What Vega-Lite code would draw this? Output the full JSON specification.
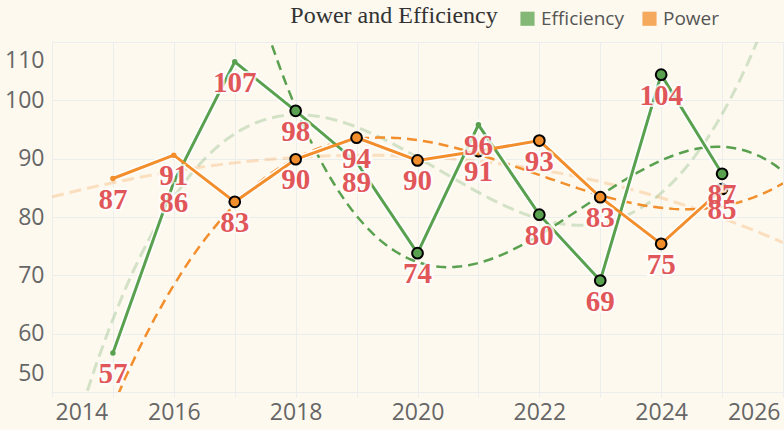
{
  "$schema": "https://vega.github.io/schema/vega-lite/v6.json",
  "width": 784,
  "height": 430,
  "autosize": {"type": "fit", "contains": "padding"},
  "padding": {"left": 4, "right": 0, "top": 4, "bottom": 6},
  "background": "#fdf9ef",
  "title": {"text": "Power and Efficiency", "font": "Liberation Serif", "fontSize": 24, "fontWeight": "normal", "color": "#333333", "anchor": "middle", "frame": "bounds", "offset": 14},
  "config": {"view": {"stroke": null}},
  "data": {"values": [
    {"year": 2015, "series": "Efficiency", "value": 56.7},
    {"year": 2016, "series": "Efficiency", "value": 86.0},
    {"year": 2017, "series": "Efficiency", "value": 106.6},
    {"year": 2018, "series": "Efficiency", "value": 98.2},
    {"year": 2019, "series": "Efficiency", "value": 89.4},
    {"year": 2020, "series": "Efficiency", "value": 73.8},
    {"year": 2021, "series": "Efficiency", "value": 95.8},
    {"year": 2022, "series": "Efficiency", "value": 80.4},
    {"year": 2023, "series": "Efficiency", "value": 69.1},
    {"year": 2024, "series": "Efficiency", "value": 104.4},
    {"year": 2025, "series": "Efficiency", "value": 87.4},
    {"year": 2015, "series": "Power", "value": 86.6},
    {"year": 2016, "series": "Power", "value": 90.6},
    {"year": 2017, "series": "Power", "value": 82.6},
    {"year": 2018, "series": "Power", "value": 89.9},
    {"year": 2019, "series": "Power", "value": 93.6},
    {"year": 2020, "series": "Power", "value": 89.7},
    {"year": 2021, "series": "Power", "value": 91.3},
    {"year": 2022, "series": "Power", "value": 93.1},
    {"year": 2023, "series": "Power", "value": 83.4},
    {"year": 2024, "series": "Power", "value": 75.4},
    {"year": 2025, "series": "Power", "value": 84.8}
  ]},
  "encoding": {
    "x": {"field": "year", "type": "quantitative", "title": null,
      "scale": {"domain": [2014, 2026], "nice": false, "zero": false},
      "axis": {"values": [2014, 2015, 2016, 2017, 2018, 2019, 2020, 2021, 2022, 2023, 2024, 2025, 2026],
        "labelExpr": "datum.value % 2 == 0 ? format(datum.value, 'd') : ''",
        "labelFlush": true, "labelFlushOffset": -3, "labelOverlap": false,
        "grid": true, "gridColor": "#eceeee", "ticks": true, "tickColor": "#eceeee", "tickSize": 5,
        "domain": false, "labelFont": "Open Sans", "labelFontSize": 23, "labelColor": "#666666", "labelPadding": 4}},
    "y": {"field": "value", "type": "quantitative", "title": null,
      "scale": {"domain": [50, 110], "nice": false, "zero": false},
      "axis": {"values": [50, 60, 70, 80, 90, 100, 110], "labelFlush": true, "labelFlushOffset": -7,
        "grid": true, "gridColor": "#eceeee", "ticks": false, "domain": false,
        "labelFont": "Open Sans", "labelFontSize": 23, "labelColor": "#666666", "labelPadding": 8}},
    "color": {"field": "series", "type": "nominal",
      "scale": {"domain": ["Efficiency", "Power"], "range": ["#59a14f", "#f28e2b"]},
      "legend": {"orient": "none", "legendX": 466, "legendY": -33, "direction": "horizontal", "title": null,
        "symbolType": "square", "symbolSize": 200, "symbolStrokeWidth": 0,
        "labelFont": "Open Sans", "labelFontSize": 19, "labelColor": "#555555", "columnPadding": 16,
        "encode": {"symbols": {"update": {"fill": {"scale": "color", "field": "value"}, "opacity": {"value": 0.75}, "strokeWidth": {"value": 0}}}}}}
  },
  "layer": [
    {
      "transform": [{"regression": "value", "on": "year", "groupby": ["series"], "method": "poly", "order": 3, "extent": [2014, 2026]}],
      "mark": {"type": "line", "strokeDash": [12, 6], "strokeWidth": 3, "opacity": 0.25, "clip": true}
    },
    {
      "transform": [
        {"filter": "datum.series == 'Power' ? datum.year >= 2017 : indexof([2018, 2020, 2022, 2023, 2024, 2025], datum.year) >= 0"},
        {"regression": "value", "on": "year", "groupby": ["series"], "method": "poly", "order": 3, "extent": [2014, 2026]}
      ],
      "mark": {"type": "line", "strokeDash": [10, 6], "strokeWidth": 2.5, "clip": true}
    },
    {
      "mark": {"type": "line", "strokeWidth": 6, "color": "white"},
      "encoding": {"color": {"value": "white"}, "detail": {"field": "series", "type": "nominal"}}
    },
    {
      "mark": {"type": "line", "strokeWidth": 3, "point": {"filled": true, "size": 30}}
    },
    {
      "transform": [{"filter": "datum.series == 'Power' ? datum.year >= 2017 : indexof([2018, 2020, 2022, 2023, 2024, 2025], datum.year) >= 0"}],
      "mark": {"type": "point", "filled": true, "size": 115, "stroke": "black", "strokeWidth": 2, "opacity": 1}
    },
    {
      "mark": {"type": "text", "font": "Liberation Serif", "fontWeight": "bold", "fontSize": 29, "baseline": "middle", "dy": 21, "fill": "white", "stroke": "white", "strokeWidth": 4, "strokeOpacity": 0.8},
      "encoding": {"text": {"field": "value", "type": "quantitative", "format": ".0f"}, "color": {"value": "white"}}
    },
    {
      "mark": {"type": "text", "font": "Liberation Serif", "fontWeight": "bold", "fontSize": 29, "baseline": "middle", "dy": 21},
      "encoding": {"text": {"field": "value", "type": "quantitative", "format": ".0f"}, "color": {"value": "#e15759"}}
    }
  ]
}
